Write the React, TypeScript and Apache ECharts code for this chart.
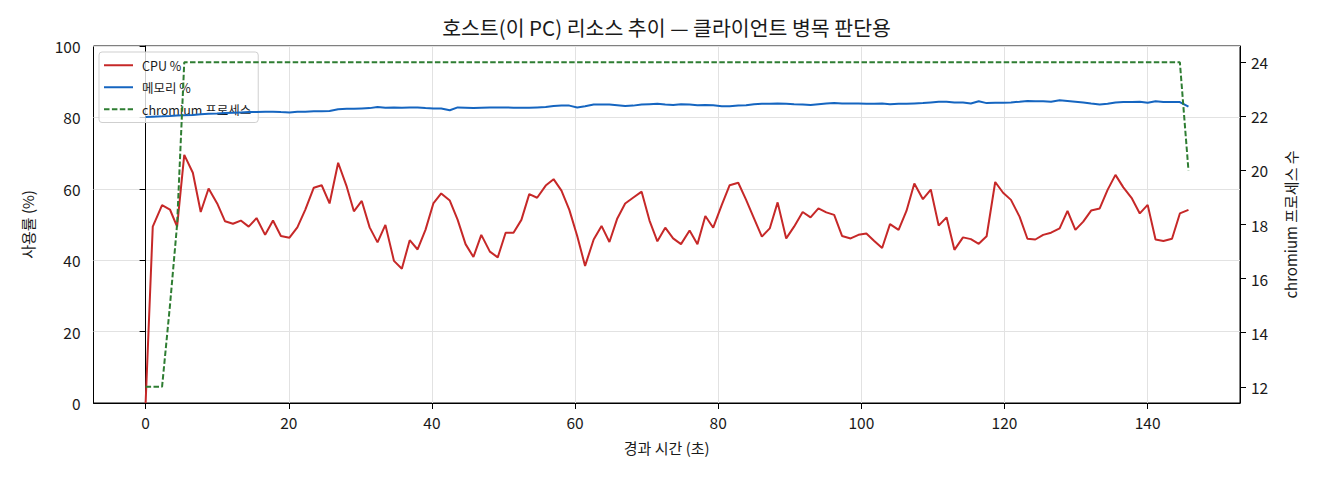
import React, { useEffect, useRef } from "react";
import * as echarts from "echarts";

const chartTitle = "호스트(이 PC) 리소스 추이 — 클라이언트 병목 판단용";
const xAxisName = "경과 시간 (초)";
const leftAxisName = "사용률 (%)";
const rightAxisName = "chromium 프로세스 수";
const seriesNames = ["CPU %", "메모리 %", "chromium 프로세스"];

const times = [
  0, 1.0, 2.3, 3.4, 4.4, 5.4, 6.6, 7.7, 8.8, 10.0,
  11.1, 12.2, 13.3, 14.4, 15.5, 16.7, 17.8, 18.9, 20.1, 21.2,
  22.3, 23.5, 24.6, 25.7, 26.9, 28.1, 29.1, 30.2, 31.3, 32.4,
  33.5, 34.7, 35.8, 36.9, 38.0, 39.1, 40.2, 41.3, 42.5, 43.6,
  44.7, 45.8, 46.9, 48.1, 49.2, 50.3, 51.4, 52.5, 53.6, 54.7,
  55.9, 57.0, 58.1, 59.2, 60.3, 61.4, 62.6, 63.7, 64.8, 65.9,
  67.0, 68.1, 69.3, 70.4, 71.5, 72.6, 73.7, 74.8, 76.0, 77.1,
  78.2, 79.3, 80.5, 81.6, 82.8, 83.9, 85.0, 86.1, 87.2, 88.3,
  89.5, 90.6, 91.8, 92.9, 94.0, 95.1, 96.2, 97.3, 98.5, 99.6,
  100.7, 101.8, 102.9, 104.0, 105.2, 106.3, 107.4, 108.6, 109.7, 110.8,
  111.9, 113.0, 114.2, 115.3, 116.4, 117.5, 118.7, 119.8, 120.9, 122.1,
  123.2, 124.3, 125.4, 126.5, 127.7, 128.8, 129.9, 131.0, 132.1, 133.3,
  134.4, 135.5, 136.6, 137.8, 138.9, 140.0, 141.1, 142.2, 143.4, 144.5,
  145.7,
];

const cpuPct = [
  0, 49.4, 55.4, 54.2, 49.4, 69.5, 64.5, 53.5, 60.1, 55.9,
  50.9, 50.2, 51.1, 49.4, 51.8, 47.1, 51.1, 46.8, 46.3, 49.2,
  54.1, 60.3, 61.0, 55.9, 67.3, 60.6, 53.7, 56.6, 49.2, 45.0,
  49.9, 39.8, 37.6, 45.6, 43.0, 48.5, 55.9, 58.7, 56.7, 51.3,
  44.5, 40.9, 47.1, 42.4, 40.8, 47.7, 47.7, 51.3, 58.5, 57.5,
  60.9, 62.7, 59.5, 54.1, 46.8, 38.4, 45.8, 49.6, 45.1, 51.7,
  55.9, 57.5, 59.2, 51.1, 45.3, 49.1, 46.1, 44.5, 48.3, 44.5,
  52.4, 49.1, 55.5, 61.0, 61.7, 56.9, 51.7, 46.6, 48.9, 56.2,
  46.1, 49.4, 53.5, 52.0, 54.5, 53.4, 52.7, 46.8, 46.1, 47.1,
  47.5, 45.4, 43.4, 50.1, 48.5, 53.8, 61.5, 57.1, 59.8, 49.7,
  52.0, 42.9, 46.4, 45.9, 44.6, 46.7, 61.9, 58.9, 56.9, 52.2,
  46.0, 45.8, 47.1, 47.7, 48.9, 53.8, 48.5, 50.8, 53.9, 54.5,
  59.7, 63.9, 60.4, 57.3, 53.1, 55.5, 45.8, 45.4, 46.0, 53.1,
  54.1,
];

const memPct = [
  80.1, 80.2, 80.3, 80.4, 80.5, 80.6, 80.7, 80.9, 81.0, 81.1,
  81.2, 81.3, 81.4, 81.5, 81.5, 81.6, 81.6, 81.5, 81.4, 81.6,
  81.6, 81.7, 81.7, 81.8, 82.3, 82.4, 82.4, 82.5, 82.6, 82.9,
  82.7, 82.8, 82.7, 82.8, 82.8, 82.6, 82.5, 82.5, 82.0, 82.8,
  82.7, 82.6, 82.7, 82.8, 82.8, 82.8, 82.7, 82.7, 82.7, 82.8,
  82.9, 83.2, 83.3, 83.3, 82.8, 83.1, 83.6, 83.6, 83.6, 83.4,
  83.2, 83.3, 83.6, 83.7, 83.8, 83.6, 83.5, 83.7, 83.6, 83.4,
  83.5, 83.4, 83.1, 83.1, 83.3, 83.4, 83.7, 83.8, 83.8, 83.9,
  83.8, 83.7, 83.6, 83.5, 83.7, 83.9, 84.0, 83.9, 83.9, 83.9,
  83.8, 83.8, 83.9, 83.7, 83.8, 83.8, 83.9, 84.0, 84.2, 84.4,
  84.4, 84.2, 84.2, 83.9, 84.5, 84.0, 84.1, 84.1, 84.2, 84.4,
  84.6, 84.5, 84.5, 84.4, 84.8, 84.6, 84.4, 84.2, 83.9, 83.6,
  83.8, 84.2, 84.3, 84.3, 84.4, 84.1, 84.5, 84.3, 84.3, 84.3,
  83.0,
];

const chromiumProcs = [
  12, 12, 12, 15, 18, 24, 24, 24, 24, 24,
  24, 24, 24, 24, 24, 24, 24, 24, 24, 24,
  24, 24, 24, 24, 24, 24, 24, 24, 24, 24,
  24, 24, 24, 24, 24, 24, 24, 24, 24, 24,
  24, 24, 24, 24, 24, 24, 24, 24, 24, 24,
  24, 24, 24, 24, 24, 24, 24, 24, 24, 24,
  24, 24, 24, 24, 24, 24, 24, 24, 24, 24,
  24, 24, 24, 24, 24, 24, 24, 24, 24, 24,
  24, 24, 24, 24, 24, 24, 24, 24, 24, 24,
  24, 24, 24, 24, 24, 24, 24, 24, 24, 24,
  24, 24, 24, 24, 24, 24, 24, 24, 24, 24,
  24, 24, 24, 24, 24, 24, 24, 24, 24, 24,
  24, 24, 24, 24, 24, 24, 24, 24, 24, 24,
  20,
];

const xTicks = [0, 20, 40, 60, 80, 100, 120, 140];
const leftTicks = [0, 20, 40, 60, 80, 100];
const rightTicks = [12, 14, 16, 18, 20, 22, 24];

export default function App() {
  const ref = useRef<HTMLDivElement>(null);

  useEffect(() => {
    document.body.style.margin = "0";
    const chart = echarts.init(ref.current as HTMLDivElement, null, { renderer: "svg" });
    const font = '"Noto Sans CJK KR", "Noto Sans", sans-serif';
    const ink = "#1a1a1a";
    const gridColor = "#e2e2e2";

    const option: any = {
      animation: false,
      backgroundColor: "#ffffff",
      title: {
        text: chartTitle,
        left: 666.5,
        top: 17,
        textAlign: "center",
        padding: 0,
        textStyle: { fontSize: 20.5, fontWeight: "normal", fontFamily: font, color: ink },
      },
      grid: {
        left: 93.5,
        right: 80,
        top: 46,
        bottom: 77,
        show: true,
        borderColor: "#000",
        borderWidth: 1,
        backgroundColor: "transparent",
      },
      legend: {
        orient: "vertical",
        left: 99,
        top: 52,
        padding: [7, 7, 7, 4],
        itemWidth: 29,
        itemHeight: 12,
        itemGap: 9.5,
        backgroundColor: "rgba(255,255,255,0.8)",
        borderColor: "#cfcfcf",
        borderWidth: 1,
        borderRadius: 3,
        itemStyle: { color: "rgba(0,0,0,0)", borderWidth: 0, opacity: 0 },
        textStyle: { fontSize: 12.5, fontFamily: font, color: ink, padding: [0, 0, 0, 4] },
        data: seriesNames,
      },
      xAxis: {
        type: "value",
        min: -7.28,
        max: 152.9,
        splitNumber: 8,
        minInterval: 20,
        maxInterval: 20,
        name: xAxisName,
        nameLocation: "middle",
        nameGap: 37,
        nameTextStyle: { fontSize: 15, fontFamily: font, color: ink },
        axisLine: { show: true, lineStyle: { color: "#000", width: 1 } },
        axisTick: { show: true, length: 6, customValues: xTicks, lineStyle: { color: "#000" } },
        axisLabel: { customValues: xTicks, fontSize: 15.5, fontFamily: font, color: ink, margin: 11 },
        splitLine: { show: true, lineStyle: { color: gridColor, width: 1 } },
      },
      yAxis: [
        {
          type: "value",
          min: 0,
          max: 100,
          interval: 20,
          position: "left",
          name: leftAxisName,
          nameLocation: "middle",
          nameGap: 59,
          nameTextStyle: { fontSize: 15, fontFamily: font, color: ink },
          axisLine: { show: true, lineStyle: { color: "#000", width: 1 } },
          axisTick: { show: true, length: 6, customValues: leftTicks, lineStyle: { color: "#000" } },
          axisLabel: { customValues: leftTicks, fontSize: 15.5, fontFamily: font, color: ink, margin: 13 },
          splitLine: { show: true, lineStyle: { color: gridColor, width: 1 } },
        },
        {
          type: "value",
          min: 11.4,
          max: 24.6,
          splitNumber: 6,
          minInterval: 2,
          maxInterval: 2,
          position: "right",
          name: rightAxisName,
          nameLocation: "middle",
          nameGap: 43,
          nameTextStyle: { fontSize: 15, fontFamily: font, color: ink },
          axisLine: { show: true, lineStyle: { color: "#000", width: 1 } },
          axisTick: { show: true, length: 6, customValues: rightTicks, lineStyle: { color: "#000" } },
          axisLabel: { customValues: rightTicks, fontSize: 15.5, fontFamily: font, color: ink, margin: 11 },
          splitLine: { show: false },
        },
      ],
      series: [
        {
          name: seriesNames[0],
          type: "line",
          yAxisIndex: 0,
          symbol: "none",
          data: times.map((t, i) => [t, cpuPct[i]]),
          lineStyle: { color: "#c62828", width: 2 },
          itemStyle: { color: "#c62828" },
          z: 3,
        },
        {
          name: seriesNames[1],
          type: "line",
          yAxisIndex: 0,
          symbol: "none",
          data: times.map((t, i) => [t, memPct[i]]),
          lineStyle: { color: "#1565c0", width: 2 },
          itemStyle: { color: "#1565c0" },
          z: 4,
        },
        {
          name: seriesNames[2],
          type: "line",
          yAxisIndex: 1,
          symbol: "none",
          data: times.map((t, i) => [t, chromiumProcs[i]]),
          lineStyle: { color: "#2e7d32", width: 2, type: [5.5, 2.4] },
          itemStyle: { color: "#2e7d32" },
          z: 5,
        },
      ],
    };

    chart.setOption(option);
    return () => chart.dispose();
  }, []);

  return <div ref={ref} style={{ width: 1320, height: 480 }} />;
}
